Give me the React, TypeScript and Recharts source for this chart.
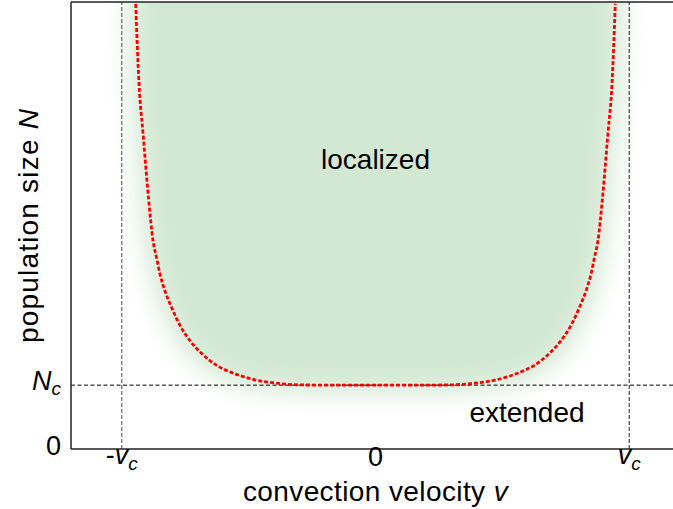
import React from "react";
import {
  ComposedChart,
  Area,
  Line,
  XAxis,
  YAxis,
  ReferenceLine,
  ReferenceDot,
} from "recharts";

// Phase boundary N(v): velocity in units of v_c, population in units of N_c
const velocity = [
  -0.945, -0.932, -0.916, -0.895, -0.877, -0.863, -0.85, -0.83, -0.804,
  -0.771, -0.732, -0.686, -0.626, -0.562, -0.483, -0.39, -0.286, -0.15, 0,
  0.15, 0.286, 0.39, 0.483, 0.562, 0.626, 0.686, 0.732, 0.771, 0.804, 0.83,
  0.85, 0.863, 0.877, 0.895, 0.916, 0.932, 0.945,
];
const population = [
  6.97, 5.72, 4.94, 3.95, 3.27, 3.0, 2.75, 2.48, 2.22, 1.94, 1.7, 1.5, 1.31,
  1.19, 1.09, 1.03, 1.003, 1.0, 1.0, 1.0, 1.003, 1.03, 1.09, 1.19, 1.31, 1.5,
  1.7, 1.94, 2.22, 2.48, 2.75, 3.0, 3.27, 3.95, 4.94, 5.72, 6.97,
];

const V_C = 1;
const N_C = 1;
const N_MAX = 7;
const X_DOMAIN: [number, number] = [-1.2, 1.2];
const REGION_TOP = 8;

const xTicks = [-V_C, 0, V_C];
const yTicks = [0, N_C];

const regionLabels = [
  { text: "localized", v: 0, n: 4.52 },
  { text: "extended", v: 0.597, n: 0.56 },
];

const data = velocity.map((v, i) => ({
  v,
  n: population[i],
  band: [population[i], REGION_TOP],
}));

const FONT = "'Liberation Sans', Arial, Helvetica, sans-serif";
const FS = 27;
const FS_TITLE = 28;

const XTick = (props: any) => {
  const { x, y, payload } = props;
  const val = payload.value;
  if (val === 0) {
    return (
      <text x={x} y={y} dy={17} textAnchor="middle" fontFamily={FONT} fontSize={FS} fill="#000">
        0
      </text>
    );
  }
  return (
    <text x={x} y={y} dy={15} textAnchor="middle" fontFamily={FONT} fontSize={FS} fill="#000">
      {val < 0 ? "-" : ""}
      <tspan fontStyle="italic">v</tspan>
      <tspan fontStyle="italic" fontSize={19} dy={6}>c</tspan>
    </text>
  );
};

const YTick = (props: any) => {
  const { x, y, payload } = props;
  const val = payload.value;
  if (val === 0) {
    return (
      <text x={x} y={y} dy={6} textAnchor="end" fontFamily={FONT} fontSize={FS} fill="#000">
        0
      </text>
    );
  }
  return (
    <text x={x} y={y} dy={5} textAnchor="end" fontFamily={FONT} fontSize={FS} fill="#000">
      <tspan fontStyle="italic">N</tspan>
      <tspan fontStyle="italic" fontSize={19} dy={5}>c</tspan>
    </text>
  );
};

const XTitle = (props: any) => {
  const { viewBox } = props;
  const cx = viewBox.x + viewBox.width / 2;
  return (
    <text
      x={cx}
      y={viewBox.y + 52}
      textAnchor="middle"
      fontFamily={FONT}
      fontSize={FS_TITLE}
      letterSpacing={0.4}
      fill="#000"
    >
      convection velocity <tspan fontStyle="italic">v</tspan>
    </text>
  );
};

const YTitle = (props: any) => {
  const { viewBox } = props;
  const cx = 38;
  const cy = viewBox.y + viewBox.height / 2;
  return (
    <text
      x={cx}
      y={cy}
      textAnchor="middle"
      transform={`rotate(-90, ${cx}, ${cy})`}
      fontFamily={FONT}
      fontSize={FS_TITLE}
      letterSpacing={1.2}
      fill="#000"
    >
      population size <tspan fontStyle="italic">N</tspan>
    </text>
  );
};

const RegionLabel = (text: string) => (props: any) => {
  const { viewBox } = props;
  const cx = viewBox.x + viewBox.width / 2;
  const cy = viewBox.y + viewBox.height / 2;
  return (
    <text x={cx} y={cy} dy={9} textAnchor="middle" fontFamily={FONT} fontSize={FS_TITLE} fill="#000">
      {text}
    </text>
  );
};

export default function App() {
  return (
    <div
      style={{
        position: "absolute",
        left: 0,
        top: 0,
        width: 673,
        height: 509,
        overflow: "hidden",
        background: "#fff",
      }}
    >
      <ComposedChart
        width={690}
        height={509}
        data={data}
        margin={{ top: 2, right: 10, bottom: 0, left: 0 }}
      >
        <defs>
          <filter id="soften" x="-30%" y="-30%" width="160%" height="160%">
            <feMorphology operator="dilate" radius="7" />
            <feGaussianBlur stdDeviation="13" />
          </filter>
        </defs>
        <XAxis
          dataKey="v"
          type="number"
          domain={X_DOMAIN}
          ticks={xTicks}
          height={60}
          tickLine={false}
          tickSize={0}
          tickMargin={0}
          tick={<XTick />}
          axisLine={{ stroke: "#222", strokeWidth: 1.5 }}
          allowDataOverflow
          label={<XTitle />}
        />
        <YAxis
          type="number"
          domain={[0, N_MAX]}
          ticks={yTicks}
          width={71}
          tickLine={false}
          tickSize={0}
          tickMargin={10}
          tick={<YTick />}
          axisLine={{ stroke: "#222", strokeWidth: 1.5 }}
          allowDataOverflow
          label={<YTitle />}
        />
        <Area
          dataKey="band"
          type="monotone"
          stroke="none"
          fill="#d3e8d3"
          fillOpacity={1}
          filter="url(#soften)"
          isAnimationActive={false}
          dot={false}
          activeDot={false}
        />
        <ReferenceLine x={-V_C} stroke="#6a6a6a" strokeDasharray="4 2" strokeWidth={1.2} />
        <ReferenceLine x={V_C} stroke="#444" strokeDasharray="4 2" strokeWidth={1.2} />
        <ReferenceLine y={N_C} stroke="#000" strokeDasharray="4 2.5" strokeWidth={1} />
        <ReferenceLine y={N_MAX} stroke="#222" strokeWidth={1.5} />
        <Line
          dataKey="n"
          type="monotone"
          stroke="#ff0000"
          strokeWidth={2.8}
          strokeDasharray="4 2"
          dot={false}
          activeDot={false}
          isAnimationActive={false}
        />
        {regionLabels.map((r) => (
          <ReferenceDot
            key={r.text}
            x={r.v}
            y={r.n}
            r={0}
            fill="none"
            stroke="none"
            label={RegionLabel(r.text)}
          />
        ))}
      </ComposedChart>
    </div>
  );
}
